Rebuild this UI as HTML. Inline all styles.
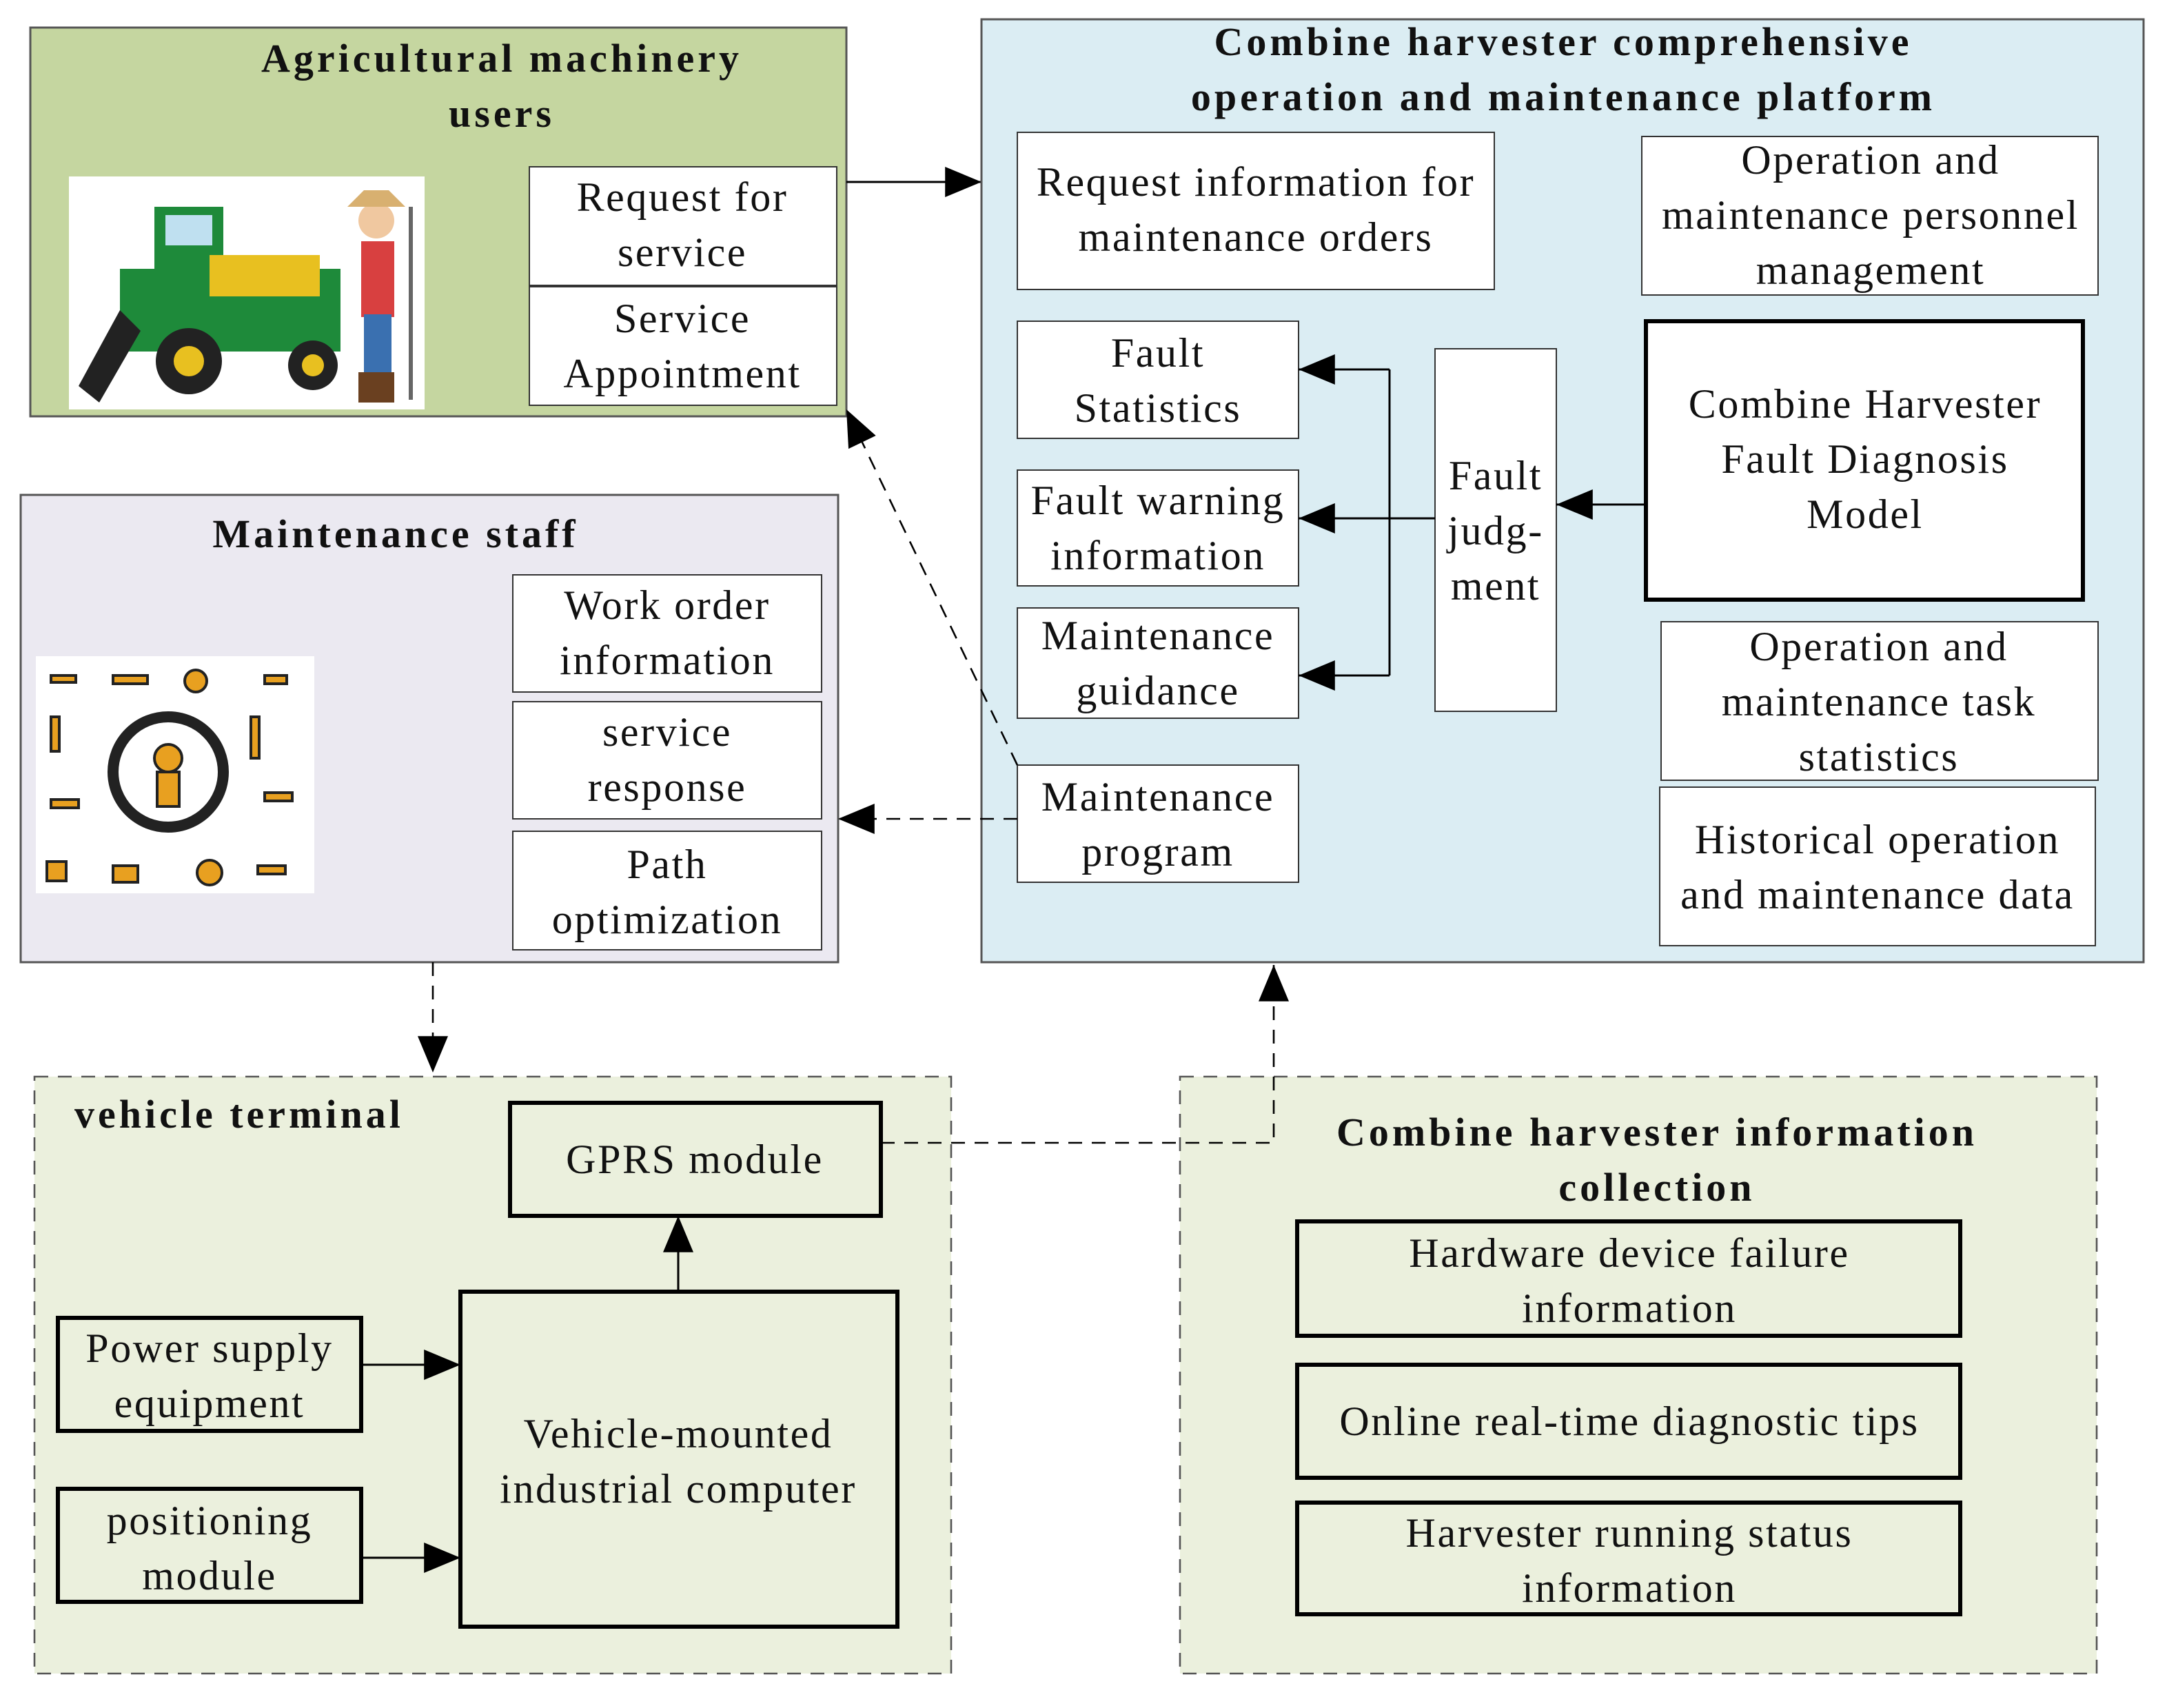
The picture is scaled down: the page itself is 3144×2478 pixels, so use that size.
<!DOCTYPE html>
<html><head><meta charset="utf-8"><style>
html,body{margin:0;padding:0;background:#fff;}
svg{display:block;}
text{font-family:"Liberation Serif",serif;font-size:30px;letter-spacing:1.3px;fill:#111;}
.b{font-weight:bold;font-size:29px;letter-spacing:2.5px;}
</style></head><body>
<svg width="3144" height="2478" viewBox="0 0 1568 1239" xmlns="http://www.w3.org/2000/svg">
<defs>
<marker id="A" viewBox="0 0 24 20" markerWidth="34" markerHeight="22" refX="24" refY="10" orient="auto" markerUnits="userSpaceOnUse"><path d="M0,0 L24,10 L0,20 z" fill="#000"/></marker>
</defs>
<rect width="1568" height="1239" fill="#fff"/>
<!-- users -->
<rect x="20" y="20" width="592" height="282" fill="#c5d6a0" stroke="#555" stroke-width="1.5"/>
<text class="b" x="362" y="52" text-anchor="middle">Agricultural machinery</text>
<text class="b" x="362" y="92" text-anchor="middle">users</text>
<rect x="48" y="128" width="258" height="169" fill="#fff"/>
<rect x="110" y="150" width="50" height="50" fill="#1e8a3a"/>
<rect x="118" y="156" width="34" height="22" fill="#bfe0f0"/>
<rect x="85" y="195" width="160" height="60" fill="#1e8a3a"/>
<rect x="150" y="185" width="80" height="30" fill="#e8c020"/>
<circle cx="135" cy="262" r="24" fill="#222"/><circle cx="135" cy="262" r="11" fill="#e8c020"/>
<circle cx="225" cy="265" r="18" fill="#222"/><circle cx="225" cy="265" r="8" fill="#e8c020"/>
<path d="M55,280 L85,225 L100,240 L70,292z" fill="#222"/>
<rect x="260" y="175" width="24" height="55" fill="#d84040"/>
<circle cx="271" cy="160" r="13" fill="#f0c8a0"/>
<path d="M250,150 L292,150 L280,138 L262,138z" fill="#d8b070"/>
<rect x="262" y="228" width="20" height="45" fill="#3a70b0"/>
<rect x="258" y="270" width="26" height="22" fill="#6a4020"/>
<line x1="296" y1="150" x2="296" y2="290" stroke="#666" stroke-width="3"/>
<rect x="382" y="121" width="223" height="86" fill="#fff" stroke="#333"/>
<text x="493" y="153" text-anchor="middle">Request for</text><text x="493" y="193" text-anchor="middle">service</text>
<rect x="382" y="208" width="223" height="86" fill="#fff" stroke="#333"/>
<text x="493" y="241" text-anchor="middle">Service</text><text x="493" y="281" text-anchor="middle">Appointment</text>
<line x1="612" y1="132" x2="710" y2="132" stroke="#000" stroke-width="1.5" marker-end="url(#A)"/>
<!-- platform -->
<rect x="710" y="14" width="843" height="684" fill="#dbedf3" stroke="#555" stroke-width="1.5"/>
<text class="b" x="1132" y="40" text-anchor="middle">Combine harvester comprehensive</text>
<text class="b" x="1132" y="80" text-anchor="middle">operation and maintenance platform</text>
<rect x="736" y="96" width="346" height="114" fill="#fff" stroke="#333"/>
<text x="909" y="142" text-anchor="middle">Request information for</text><text x="909" y="182" text-anchor="middle">maintenance orders</text>
<rect x="1189" y="99" width="331" height="115" fill="#fff" stroke="#333"/>
<text x="1355" y="126" text-anchor="middle">Operation and</text><text x="1355" y="166" text-anchor="middle">maintenance personnel</text><text x="1355" y="206" text-anchor="middle">management</text>
<rect x="736" y="233" width="204" height="85" fill="#fff" stroke="#333"/>
<text x="838" y="266" text-anchor="middle">Fault</text><text x="838" y="306" text-anchor="middle">Statistics</text>
<rect x="736" y="341" width="204" height="84" fill="#fff" stroke="#333"/>
<text x="838" y="373" text-anchor="middle">Fault warning</text><text x="838" y="413" text-anchor="middle">information</text>
<rect x="736" y="441" width="204" height="80" fill="#fff" stroke="#333"/>
<text x="838" y="471" text-anchor="middle">Maintenance</text><text x="838" y="511" text-anchor="middle">guidance</text>
<rect x="736" y="555" width="204" height="85" fill="#fff" stroke="#333"/>
<text x="838" y="588" text-anchor="middle">Maintenance</text><text x="838" y="628" text-anchor="middle">program</text>
<rect x="1039" y="253" width="88" height="263" fill="#fff" stroke="#333"/>
<text x="1083" y="355" text-anchor="middle">Fault</text><text x="1083" y="395" text-anchor="middle">judg-</text><text x="1083" y="435" text-anchor="middle">ment</text>
<rect x="1192" y="233" width="317" height="202" fill="#fff" stroke="#000" stroke-width="3"/>
<text x="1351" y="303" text-anchor="middle">Combine Harvester</text><text x="1351" y="343" text-anchor="middle">Fault Diagnosis</text><text x="1351" y="383" text-anchor="middle">Model</text>
<rect x="1203" y="451" width="317" height="115" fill="#fff" stroke="#333"/>
<text x="1361" y="479" text-anchor="middle">Operation and</text><text x="1361" y="519" text-anchor="middle">maintenance task</text><text x="1361" y="559" text-anchor="middle">statistics</text>
<rect x="1202" y="571" width="316" height="115" fill="#fff" stroke="#333"/>
<text x="1360" y="619" text-anchor="middle">Historical operation</text><text x="1360" y="659" text-anchor="middle">and maintenance data</text>
<line x1="1192" y1="366" x2="1127" y2="366" stroke="#000" stroke-width="1.5" marker-end="url(#A)"/>
<line x1="1039" y1="376" x2="940" y2="376" stroke="#000" stroke-width="1.5" marker-end="url(#A)"/>
<polyline points="1006,268 1006,490" fill="none" stroke="#000" stroke-width="1.5"/>
<line x1="1006" y1="268" x2="940" y2="268" stroke="#000" stroke-width="1.5" marker-end="url(#A)"/>
<line x1="1006" y1="490" x2="940" y2="490" stroke="#000" stroke-width="1.5" marker-end="url(#A)"/>
<!-- maintenance staff -->
<rect x="13" y="359" width="593" height="339" fill="#ebe9f1" stroke="#555" stroke-width="1.5"/>
<text class="b" x="285" y="397" text-anchor="middle">Maintenance staff</text>
<rect x="24" y="476" width="202" height="172" fill="#fff"/>
<g fill="#e8a020" stroke="#222" stroke-width="2">
<circle cx="120" cy="560" r="40" fill="none" stroke="#222" stroke-width="8"/>
<circle cx="120" cy="550" r="10" fill="#e8a020"/>
<rect x="112" y="560" width="16" height="25"/>
<rect x="35" y="490" width="18" height="5"/><rect x="80" y="490" width="25" height="6"/>
<circle cx="140" cy="494" r="8"/><rect x="190" y="490" width="16" height="6"/>
<rect x="35" y="520" width="6" height="25"/><rect x="180" y="520" width="6" height="30"/>
<rect x="35" y="580" width="20" height="6"/><rect x="190" y="575" width="20" height="6"/>
<rect x="32" y="625" width="14" height="14"/><rect x="80" y="628" width="18" height="12"/>
<circle cx="150" cy="633" r="9"/><rect x="185" y="628" width="20" height="6"/>
</g>
<rect x="370" y="417" width="224" height="85" fill="#fff" stroke="#333"/>
<text x="482" y="449" text-anchor="middle">Work order</text><text x="482" y="489" text-anchor="middle">information</text>
<rect x="370" y="509" width="224" height="85" fill="#fff" stroke="#333"/>
<text x="482" y="541" text-anchor="middle">service</text><text x="482" y="581" text-anchor="middle">response</text>
<rect x="370" y="603" width="224" height="86" fill="#fff" stroke="#333"/>
<text x="482" y="637" text-anchor="middle">Path</text><text x="482" y="677" text-anchor="middle">optimization</text>
<line x1="736" y1="594" x2="606" y2="594" stroke="#000" stroke-width="1.3" stroke-dasharray="10,7" marker-end="url(#A)"/>
<line x1="736" y1="555" x2="612" y2="297" stroke="#000" stroke-width="1.3" stroke-dasharray="10,7" marker-end="url(#A)"/>
<line x1="312" y1="698" x2="312" y2="778" stroke="#000" stroke-width="1.3" stroke-dasharray="10,7" marker-end="url(#A)"/>
<!-- vehicle terminal -->
<rect x="23" y="781" width="665" height="433" fill="#ebf0dd" stroke="#555" stroke-width="1.3" stroke-dasharray="10,7"/>
<text class="b" x="52" y="818">vehicle terminal</text>
<rect x="368" y="800" width="269" height="82" fill="#ebf0dd" stroke="#000" stroke-width="3"/>
<text x="502" y="851" text-anchor="middle">GPRS module</text>
<rect x="332" y="937" width="317" height="243" fill="#ebf0dd" stroke="#000" stroke-width="3"/>
<text x="490" y="1050" text-anchor="middle">Vehicle-mounted</text><text x="490" y="1090" text-anchor="middle">industrial computer</text>
<rect x="40" y="956" width="220" height="82" fill="#ebf0dd" stroke="#000" stroke-width="3"/>
<text x="150" y="988" text-anchor="middle">Power supply</text><text x="150" y="1028" text-anchor="middle">equipment</text>
<rect x="40" y="1080" width="220" height="82" fill="#ebf0dd" stroke="#000" stroke-width="3"/>
<text x="150" y="1113" text-anchor="middle">positioning</text><text x="150" y="1153" text-anchor="middle">module</text>
<line x1="260" y1="990" x2="332" y2="990" stroke="#000" stroke-width="1.5" marker-end="url(#A)"/>
<line x1="260" y1="1130" x2="332" y2="1130" stroke="#000" stroke-width="1.5" marker-end="url(#A)"/>
<line x1="490" y1="937" x2="490" y2="882" stroke="#000" stroke-width="1.5" marker-end="url(#A)"/>
<!-- info collection -->
<rect x="854" y="781" width="665" height="433" fill="#ebf0dd" stroke="#555" stroke-width="1.3" stroke-dasharray="10,7"/>
<text class="b" x="1200" y="831" text-anchor="middle">Combine harvester information</text>
<text class="b" x="1200" y="871" text-anchor="middle">collection</text>
<rect x="939" y="886" width="481" height="83" fill="#ebf0dd" stroke="#000" stroke-width="3"/>
<text x="1180" y="919" text-anchor="middle">Hardware device failure</text><text x="1180" y="959" text-anchor="middle">information</text>
<rect x="939" y="990" width="481" height="82" fill="#ebf0dd" stroke="#000" stroke-width="3"/>
<text x="1180" y="1041" text-anchor="middle">Online real-time diagnostic tips</text>
<rect x="939" y="1090" width="481" height="81" fill="#ebf0dd" stroke="#000" stroke-width="3"/>
<text x="1180" y="1122" text-anchor="middle">Harvester running status</text><text x="1180" y="1162" text-anchor="middle">information</text>
<polyline points="637,829 922,829 922,700" fill="none" stroke="#000" stroke-width="1.3" stroke-dasharray="10,7" marker-end="url(#A)"/>
</svg>
</body></html>
